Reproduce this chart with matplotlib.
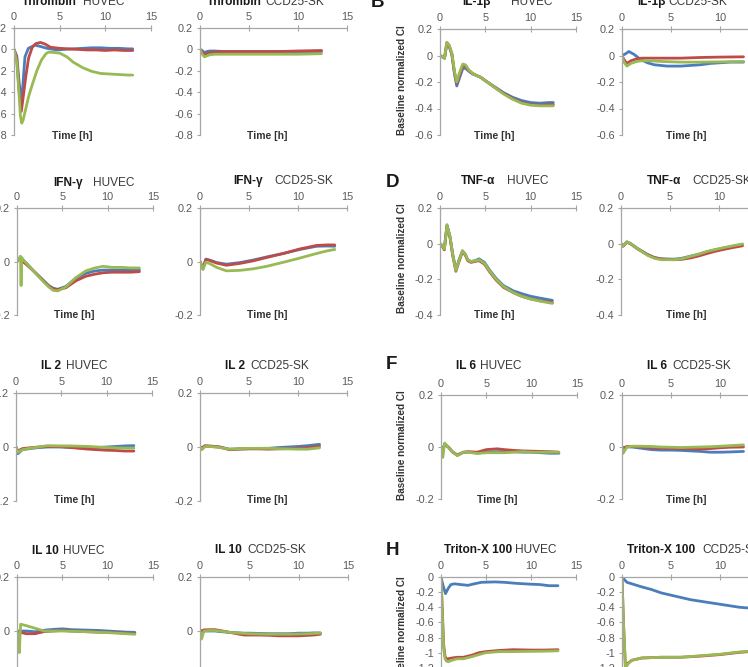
import matplotlib
matplotlib.use("Agg")
import matplotlib.pyplot as plt
from matplotlib.ticker import FuncFormatter, FixedLocator

plt.rcParams['font.family'] = ['Liberation Sans', 'DejaVu Sans']

W, H = 748, 667
BLUE, RED, GREEN = '#4A7EBB', '#BE4B48', '#98B954'

# ---------------- data ----------------
# Thrombin HUVEC
thr_huv_tb = [0, 0.3, 0.55, 0.84, 1.0, 1.2, 1.57, 2.3, 3.0, 3.6, 4.7, 5.5, 6.5, 7.5, 8.5, 9.5, 10.5, 11.5, 12.5, 13.0]
thr_huv_blue = [0, -0.06, -0.30, -0.50, -0.30, -0.07, 0.01, 0.04, 0.025, 0.01, -0.005, 0.0, 0.005, 0.01, 0.015, 0.015, 0.01, 0.01, 0.005, 0.005]
thr_huv_tr = [0, 0.3, 0.55, 0.8, 1.0, 1.3, 1.6, 2.0, 2.4, 2.9, 3.4, 4.0, 5.0, 6, 7, 8, 9, 10, 11, 12, 13]
thr_huv_red = [0, -0.08, -0.38, -0.58, -0.45, -0.25, -0.08, 0.02, 0.055, 0.065, 0.05, 0.02, 0.01, 0.005, 0.0, -0.005, -0.005, -0.01, -0.005, -0.01, -0.01]
thr_huv_tg = [0, 0.3, 0.5, 0.7, 0.85, 1.0, 1.3, 1.6, 2.0, 2.5, 3.0, 3.5, 3.8, 4.5, 5.0, 5.8, 6.5, 7.5, 8.5, 9.5, 10.5, 11.5, 12.5, 13.0]
thr_huv_green = [0, -0.12, -0.35, -0.62, -0.69, -0.66, -0.55, -0.44, -0.33, -0.20, -0.10, -0.04, -0.025, -0.03, -0.035, -0.07, -0.12, -0.17, -0.205, -0.225, -0.23, -0.235, -0.24, -0.24]

# Thrombin CCD25-SK
thr_ccd_t = [0, 0.2, 0.45, 0.7, 1.0, 1.5, 2.5, 4, 6, 8, 10, 12.4]
thr_ccd_blue = [0, -0.01, -0.03, -0.02, -0.015, -0.015, -0.02, -0.02, -0.02, -0.02, -0.02, -0.02]
thr_ccd_red = [0, -0.02, -0.05, -0.04, -0.03, -0.025, -0.02, -0.02, -0.02, -0.02, -0.015, -0.01]
thr_ccd_green = [0, -0.04, -0.07, -0.06, -0.05, -0.045, -0.045, -0.045, -0.045, -0.045, -0.045, -0.04]

# IL-1b HUVEC
il1_huv_t = [0, 0.25, 0.5, 0.75, 1.0, 1.3, 1.6, 1.85, 2.1, 2.5, 2.8, 3.2, 3.6, 4.0, 4.5, 5.0, 6.0, 7.0, 8.0, 9.0, 10.0, 11.0, 12.0, 12.5]
il1_huv_blue = [0, -0.01, -0.02, 0.09, 0.07, 0.01, -0.14, -0.23, -0.18, -0.10, -0.095, -0.12, -0.14, -0.15, -0.165, -0.19, -0.235, -0.28, -0.315, -0.34, -0.355, -0.36, -0.355, -0.355]
il1_huv_red = [0, -0.01, -0.02, 0.095, 0.075, 0.015, -0.13, -0.21, -0.16, -0.08, -0.08, -0.115, -0.135, -0.15, -0.165, -0.19, -0.24, -0.285, -0.325, -0.355, -0.37, -0.375, -0.372, -0.37]
il1_huv_green = [0, -0.01, -0.02, 0.10, 0.08, 0.02, -0.12, -0.20, -0.14, -0.065, -0.07, -0.11, -0.135, -0.15, -0.165, -0.19, -0.24, -0.29, -0.33, -0.36, -0.375, -0.38, -0.38, -0.38]

# IL-1b CCD25-SK
il1_ccd_tb = [0, 0.3, 0.7, 1.2, 1.9, 2.6, 3.3, 4.6, 6.0, 7.0, 8.0, 9.0, 10.0, 11.0, 12.4]
il1_ccd_blue = [0, 0.01, 0.03, 0.01, -0.03, -0.055, -0.07, -0.08, -0.08, -0.075, -0.07, -0.06, -0.055, -0.05, -0.05]
il1_ccd_t = [0, 0.2, 0.5, 0.9, 1.5, 2.0, 3.0, 4.0, 6.0, 8.0, 10.0, 12.4]
il1_ccd_red = [0, -0.03, -0.06, -0.04, -0.025, -0.02, -0.02, -0.02, -0.02, -0.015, -0.012, -0.01]
il1_ccd_green = [0, -0.05, -0.08, -0.06, -0.045, -0.04, -0.04, -0.045, -0.05, -0.05, -0.048, -0.045]

# IFN-g HUVEC
ifn_huv_t = [0, 0.3, 0.6, 1.0, 1.8, 2.9, 3.5, 4.0, 4.5, 5.4, 6.5, 7.6, 8.5, 9.5, 10.5, 11.5, 12.5, 13.5]
ifn_huv_blue = [0, 0.01, 0.005, -0.005, -0.034, -0.07, -0.09, -0.1, -0.104, -0.093, -0.062, -0.044, -0.036, -0.032, -0.032, -0.032, -0.033, -0.032]
ifn_huv_red = [0, 0.01, 0.0, -0.01, -0.035, -0.072, -0.092, -0.103, -0.105, -0.098, -0.072, -0.055, -0.048, -0.042, -0.04, -0.04, -0.04, -0.038]
ifn_huv_tg = [0, 0.2, 0.38, 0.45, 0.52, 0.6, 1.0, 1.8, 2.9, 3.5, 4.0, 4.5, 5.4, 6.5, 7.6, 8.5, 9.5, 10.5, 11.5, 12.5, 13.5]
ifn_huv_green = [0, 0.01, 0.02, -0.09, 0.015, 0.01, -0.005, -0.035, -0.075, -0.095, -0.108, -0.11, -0.095, -0.06, -0.035, -0.025, -0.018, -0.022, -0.022, -0.024, -0.024]

# IFN-g CCD25-SK
ifn_ccd_t = [0, 0.3, 0.6, 1.0, 1.7, 2.7, 4.1, 5.5, 6.8, 8.5, 10.2, 11.9, 13.0, 13.75]
ifn_ccd_blue = [0, -0.028, 0.009, 0.005, -0.004, -0.01, -0.004, 0.006, 0.017, 0.03, 0.045, 0.057, 0.058, 0.057]
ifn_ccd_red = [0, -0.025, 0.008, 0.004, -0.006, -0.014, -0.007, 0.003, 0.015, 0.03, 0.047, 0.06, 0.062, 0.062]
ifn_ccd_green = [0, -0.03, -0.003, -0.008, -0.022, -0.035, -0.033, -0.027, -0.018, -0.003, 0.013, 0.03, 0.04, 0.045]

# TNF-a HUVEC
tnf_huv_t = [0, 0.25, 0.48, 0.77, 1.1, 1.4, 1.75, 2.1, 2.48, 2.8, 3.05, 3.4, 3.9, 4.3, 4.9, 5.5, 6.2, 7.0, 8.1, 9.0, 10.0, 11.0, 12.4]
tnf_huv_blue = [0, -0.01, -0.025, 0.105, 0.04, -0.06, -0.145, -0.09, -0.04, -0.06, -0.09, -0.1, -0.095, -0.085, -0.105, -0.15, -0.195, -0.235, -0.265, -0.28, -0.295, -0.305, -0.318]
tnf_huv_red = [0, -0.015, -0.035, 0.10, 0.035, -0.065, -0.155, -0.10, -0.045, -0.065, -0.095, -0.105, -0.1, -0.095, -0.115, -0.16, -0.205, -0.245, -0.275, -0.295, -0.31, -0.32, -0.33]
tnf_huv_green = [0, -0.01, -0.03, 0.105, 0.04, -0.06, -0.15, -0.095, -0.04, -0.06, -0.09, -0.1, -0.097, -0.09, -0.11, -0.155, -0.2, -0.24, -0.275, -0.295, -0.31, -0.322, -0.335]

# TNF-a CCD25-SK
tnf_ccd_t = [0, 0.2, 0.6, 1.0, 1.7, 2.7, 3.4, 4.1, 5.4, 6.2, 7.1, 8.0, 8.8, 9.6, 10.5, 11.4, 12.4]
tnf_ccd_blue = [0, -0.012, 0.01, 0.0, -0.027, -0.06, -0.078, -0.085, -0.087, -0.082, -0.07, -0.058, -0.045, -0.035, -0.025, -0.015, -0.005]
tnf_ccd_red = [0, -0.015, 0.008, -0.002, -0.03, -0.062, -0.078, -0.086, -0.09, -0.088, -0.08, -0.068, -0.055, -0.043, -0.032, -0.022, -0.012]
tnf_ccd_green = [0, -0.013, 0.01, 0.0, -0.028, -0.065, -0.082, -0.09, -0.09, -0.085, -0.071, -0.058, -0.043, -0.033, -0.022, -0.012, -0.002]

# IL 2 HUVEC
il2_huv_t = [0, 0.2, 0.7, 1.5, 2.5, 3.5, 5, 6, 7, 8, 9, 10, 11, 12, 13]
il2_huv_blue = [0, -0.025, -0.01, -0.006, -0.002, 0.0, 0.0, -0.001, -0.003, -0.003, -0.002, 0.0, 0.002, 0.004, 0.005]
il2_huv_red = [0, -0.015, -0.006, -0.003, 0.0, 0.002, 0.001, -0.002, -0.005, -0.008, -0.01, -0.012, -0.013, -0.015, -0.015]
il2_huv_green = [0, -0.02, -0.01, -0.005, 0.0, 0.005, 0.004, 0.004, 0.003, 0.002, 0.0, -0.002, -0.003, -0.004, -0.004]

# IL 2 CCD25-SK
il2_ccd_t = [0, 0.2, 0.5, 1.0, 2.0, 3.0, 4.0, 5.0, 6.0, 7.0, 8.0, 9.0, 10.0, 11.0, 12.2]
il2_ccd_blue = [0, -0.005, 0.003, 0.002, 0.0, -0.008, -0.007, -0.006, -0.005, -0.005, -0.002, 0.0, 0.002, 0.005, 0.01]
il2_ccd_red = [0, -0.003, 0.005, 0.004, 0.0, -0.01, -0.008, -0.007, -0.007, -0.008, -0.007, -0.006, -0.005, -0.003, 0.003]
il2_ccd_green = [0, -0.01, 0.002, 0.002, -0.002, -0.008, -0.006, -0.005, -0.005, -0.005, -0.006, -0.007, -0.008, -0.008, -0.003]

# IL 6 HUVEC
il6_huv_t = [0, 0.2, 0.4, 0.8, 1.3, 1.8, 2.5, 3.0, 4.0, 5.0, 6.2, 7.0, 8.0, 9.0, 10.0, 11.0, 12.0, 13.0]
il6_huv_blue = [0, -0.01, 0.01, 0.0, -0.02, -0.032, -0.02, -0.02, -0.023, -0.02, -0.018, -0.018, -0.018, -0.02, -0.02, -0.022, -0.024, -0.024]
il6_huv_red = [0, -0.01, 0.01, 0.0, -0.02, -0.03, -0.02, -0.018, -0.02, -0.01, -0.007, -0.01, -0.013, -0.015, -0.016, -0.017, -0.018, -0.02]
il6_huv_green = [0, -0.04, 0.015, 0.0, -0.02, -0.033, -0.02, -0.02, -0.025, -0.022, -0.022, -0.022, -0.02, -0.018, -0.02, -0.02, -0.02, -0.02]

# IL 6 CCD25-SK
il6_ccd_t = [0, 0.1, 0.5, 1, 2, 3, 4, 5, 6, 7, 8, 9, 10, 11, 12.4]
il6_ccd_blue = [0, -0.003, 0.0, 0.0, -0.005, -0.01, -0.012, -0.012, -0.013, -0.015, -0.017, -0.02, -0.02, -0.019, -0.017]
il6_ccd_red = [0, -0.005, 0.002, 0.002, 0.0, -0.003, -0.005, -0.005, -0.006, -0.007, -0.008, -0.006, -0.003, -0.001, 0.0]
il6_ccd_green = [0, -0.025, 0.0, 0.003, 0.003, 0.002, 0.0, -0.001, -0.002, -0.001, 0.0, 0.001, 0.003, 0.005, 0.008]

# IL 10 HUVEC
il10_huv_t = [0, 0.15, 0.25, 0.4, 1, 2, 3, 4, 5, 6, 7, 8, 9, 10, 11, 12, 13]
il10_huv_blue = [0, 0.0, 0.0, 0.0, 0.0, -0.003, 0.003, 0.006, 0.008, 0.005, 0.004, 0.003, 0.002, 0.0, -0.002, -0.004, -0.005]
il10_huv_red = [0, -0.002, -0.004, -0.005, -0.01, -0.01, -0.002, 0.0, 0.002, 0.0, -0.002, -0.003, -0.004, -0.005, -0.006, -0.008, -0.01]
il10_huv_green = [0, -0.04, -0.08, 0.025, 0.02, 0.01, 0.0, 0.0, 0.0, -0.001, -0.002, -0.003, -0.005, -0.006, -0.008, -0.01, -0.012]

# IL 10 CCD25-SK
il10_ccd_t = [0, 0.15, 0.4, 1, 1.5, 2, 3, 4, 4.5, 5, 6, 7, 8, 9, 10, 11, 11.5, 12.2]
il10_ccd_blue = [0, 0.0, 0.0, 0.0, 0.0, -0.002, -0.005, -0.007, -0.008, -0.008, -0.009, -0.01, -0.01, -0.01, -0.008, -0.008, -0.007, -0.007]
il10_ccd_red = [0, 0.0, 0.004, 0.005, 0.005, 0.002, -0.005, -0.012, -0.015, -0.015, -0.015, -0.016, -0.018, -0.018, -0.018, -0.016, -0.015, -0.012]
il10_ccd_green = [0, -0.03, 0.0, 0.002, 0.002, 0.0, -0.005, -0.008, -0.009, -0.01, -0.011, -0.012, -0.012, -0.012, -0.011, -0.01, -0.009, -0.008]

# Triton-X 100 HUVEC
tri_huv_tb = [0, 0.2, 0.5, 0.8, 1.1, 1.5, 2.2, 3.0, 3.7, 4.5, 6.0, 7.0, 8.5, 10.0, 11.0, 12.0, 13.0]
tri_huv_blue = [0, -0.1, -0.22, -0.15, -0.1, -0.09, -0.1, -0.11, -0.09, -0.07, -0.065, -0.07, -0.085, -0.095, -0.1, -0.115, -0.115]
tri_huv_t = [0, 0.15, 0.3, 0.45, 0.6, 0.8, 1.2, 1.8, 2.5, 3.5, 4.2, 5.0, 6.5, 8.0, 10.0, 11.5, 13.0]
tri_huv_red = [0, -0.45, -0.9, -1.05, -1.08, -1.08, -1.07, -1.06, -1.06, -1.03, -1.0, -0.985, -0.97, -0.96, -0.965, -0.965, -0.96]
tri_huv_green = [0, -0.5, -0.95, -1.08, -1.11, -1.12, -1.1, -1.08, -1.08, -1.05, -1.025, -1.0, -0.985, -0.985, -0.982, -0.98, -0.975]

# Triton-X 100 CCD25-SK
tri_ccd_tb = [0, 0.5, 1, 2, 3, 4, 5, 6, 7, 8, 9, 10, 11, 12, 13]
tri_ccd_blue = [0, -0.07, -0.09, -0.13, -0.165, -0.21, -0.24, -0.27, -0.30, -0.32, -0.34, -0.36, -0.38, -0.40, -0.41]
tri_ccd_t = [0, 0.15, 0.35, 0.6, 1, 2, 4, 6, 8, 10, 12, 13]
tri_ccd_red = [0, -0.6, -1.19, -1.14, -1.1, -1.07, -1.06, -1.06, -1.045, -1.025, -0.995, -0.985]
tri_ccd_green = [0, -0.6, -1.2, -1.15, -1.1, -1.07, -1.06, -1.06, -1.04, -1.02, -0.99, -0.98]

x_ticks = [0, 5, 10, 15]

# ---------------- layout ----------------
fig = plt.figure(figsize=(W / 100, H / 100), dpi=100)
fig.patch.set_facecolor('white')
renderer = fig.canvas.get_renderer()

AX_COL = '#A6A6A6'
TXT_COL = '#595959'


def fmt(v, pos):
    s = f"{v:.1f}".rstrip('0').rstrip('.')
    return '0' if s in ('-0', '0', '') else s


def make_axes(x0, x15, ytop, ybot, ylim, yticks):
    ax = fig.add_axes([x0 / W, 1 - ybot / H, (x15 - x0) / W, (ybot - ytop) / H])
    ax.set_xlim(0, 15)
    ax.set_ylim(*ylim)
    ax.patch.set_alpha(0)
    for s in ('bottom', 'right'):
        ax.spines[s].set_visible(False)
    for s in ('top', 'left'):
        ax.spines[s].set_color(AX_COL)
        ax.spines[s].set_linewidth(0.9)
    ax.xaxis.tick_top()
    ax.xaxis.set_major_locator(FixedLocator(x_ticks))
    ax.yaxis.set_major_locator(FixedLocator(yticks))
    ax.yaxis.set_major_formatter(FuncFormatter(fmt))
    ax.tick_params(axis='x', direction='inout', length=4, width=0.8, color=AX_COL,
                   labelsize=7.8, labelcolor=TXT_COL, pad=2)
    ax.tick_params(axis='y', direction='out', length=2.5, width=0.8, color=AX_COL,
                   labelsize=7.8, labelcolor=TXT_COL, pad=2.5)
    return ax


def draw(ax, tb, b, tr, r, tg, g):
    ax.plot(tb, b, color=BLUE, lw=2.0, solid_capstyle='round')
    ax.plot(tr, r, color=RED, lw=2.0, solid_capstyle='round')
    ax.plot(tg, g, color=GREEN, lw=2.0, solid_capstyle='round')


def title(xb, xr, yb, bold, reg):
    t = fig.text(xb / W, 1 - yb / H, bold, fontsize=8.6, fontweight='bold', color='#1A1A1A',
                 ha='left', va='baseline')
    x_end = t.get_window_extent(renderer).x1 * W / fig.bbox.width
    xr = max(xr, x_end + 3)
    fig.text(xr / W, 1 - yb / H, reg, fontsize=8.6, color='#3A3A3A', ha='left', va='baseline')


def time_label(xc, yb):
    fig.text(xc / W, 1 - yb / H, 'Time [h]', fontsize=7.5, fontweight='bold', color='#333333',
             ha='center', va='baseline')


def ylab(xc, yc):
    fig.text(xc / W, 1 - yc / H, 'Baseline normalized CI', fontsize=7.2, fontweight='bold',
             color='#333333', rotation=90, ha='center', va='center')


yt_08 = [0.2, 0, -0.2, -0.4, -0.6, -0.8]
yt_06 = [0.2, 0, -0.2, -0.4, -0.6]
yt_04 = [0.2, 0, -0.2, -0.4]
yt_02 = [0.2, 0, -0.2]
yt_14 = [0, -0.2, -0.4, -0.6, -0.8, -1.0, -1.2, -1.4]

# Row 1
ax = make_axes(14, 151, 28, 135, (-0.8, 0.2), yt_08)
draw(ax, thr_huv_tb, thr_huv_blue, thr_huv_tr, thr_huv_red, thr_huv_tg, thr_huv_green)
ax = make_axes(200, 347, 28, 135, (-0.8, 0.2), yt_08)
draw(ax, thr_ccd_t, thr_ccd_blue, thr_ccd_t, thr_ccd_red, thr_ccd_t, thr_ccd_green)
ax = make_axes(440, 576, 29, 135, (-0.6, 0.2), yt_06)
draw(ax, il1_huv_t, il1_huv_blue, il1_huv_t, il1_huv_red, il1_huv_t, il1_huv_green)
ax = make_axes(622, 769, 29, 135, (-0.6, 0.2), yt_06)
draw(ax, il1_ccd_tb, il1_ccd_blue, il1_ccd_t, il1_ccd_red, il1_ccd_t, il1_ccd_green)

# Row 2
ax = make_axes(17, 153, 208, 315, (-0.2, 0.2), yt_02)
draw(ax, ifn_huv_t, ifn_huv_blue, ifn_huv_t, ifn_huv_red, ifn_huv_tg, ifn_huv_green)
ax = make_axes(200, 347, 208, 315, (-0.2, 0.2), yt_02)
draw(ax, ifn_ccd_t, ifn_ccd_blue, ifn_ccd_t, ifn_ccd_red, ifn_ccd_t, ifn_ccd_green)
ax = make_axes(440, 576, 208, 315, (-0.4, 0.2), yt_04)
draw(ax, tnf_huv_t, tnf_huv_blue, tnf_huv_t, tnf_huv_red, tnf_huv_t, tnf_huv_green)
ax = make_axes(621, 768, 208, 315, (-0.4, 0.2), yt_04)
draw(ax, tnf_ccd_t, tnf_ccd_blue, tnf_ccd_t, tnf_ccd_red, tnf_ccd_t, tnf_ccd_green)

# Row 3
ax = make_axes(16, 152, 393, 501, (-0.2, 0.2), yt_02)
draw(ax, il2_huv_t, il2_huv_blue, il2_huv_t, il2_huv_red, il2_huv_t, il2_huv_green)
ax = make_axes(200, 347, 393, 501, (-0.2, 0.2), yt_02)
draw(ax, il2_ccd_t, il2_ccd_blue, il2_ccd_t, il2_ccd_red, il2_ccd_t, il2_ccd_green)
ax = make_axes(441, 577, 395, 499, (-0.2, 0.2), yt_02)
draw(ax, il6_huv_t, il6_huv_blue, il6_huv_t, il6_huv_red, il6_huv_t, il6_huv_green)
ax = make_axes(622, 769, 395, 499, (-0.2, 0.2), yt_02)
draw(ax, il6_ccd_t, il6_ccd_blue, il6_ccd_t, il6_ccd_red, il6_ccd_t, il6_ccd_green)

# Row 4
ax = make_axes(17, 153, 577, 685, (-0.2, 0.2), yt_02)
draw(ax, il10_huv_t, il10_huv_blue, il10_huv_t, il10_huv_red, il10_huv_t, il10_huv_green)
ax = make_axes(200, 348, 577, 685, (-0.2, 0.2), yt_02)
draw(ax, il10_ccd_t, il10_ccd_blue, il10_ccd_t, il10_ccd_red, il10_ccd_t, il10_ccd_green)
ax = make_axes(441, 576, 577, 683, (-1.4, 0), yt_14)
draw(ax, tri_huv_tb, tri_huv_blue, tri_huv_t, tri_huv_red, tri_huv_t, tri_huv_green)
ax = make_axes(622, 769, 577, 683, (-1.4, 0), yt_14)
draw(ax, tri_ccd_tb, tri_ccd_blue, tri_ccd_t, tri_ccd_red, tri_ccd_t, tri_ccd_green)

# Titles
title(22, 83, 5, 'Thrombin', 'HUVEC')
title(207, 265, 5, 'Thrombin', 'CCD25-SK')
title(462, 511, 5, 'IL-1β', 'HUVEC')
title(637, 667, 5, 'IL-1β', 'CCD25-SK')
title(53, 93, 186, 'IFN-γ', 'HUVEC')
title(233, 274, 184, 'IFN-γ', 'CCD25-SK')
title(461, 507, 184, 'TNF-α', 'HUVEC')
title(647, 692, 184, 'TNF-α', 'CCD25-SK')
title(41, 66, 369, 'IL 2', 'HUVEC')
title(225, 250, 369, 'IL 2', 'CCD25-SK')
title(456, 480, 369, 'IL 6', 'HUVEC')
title(647, 672, 369, 'IL 6', 'CCD25-SK')
title(32, 63, 554, 'IL 10', 'HUVEC')
title(215, 247, 553, 'IL 10', 'CCD25-SK')
title(444, 514, 553, 'Triton-X 100', 'HUVEC')
title(627, 702, 553, 'Triton-X 100', 'CCD25-SK')

# Time labels
for yb in (139, 318, 503):
    time_label(72 if yb == 139 else 74, yb)
    time_label(267, yb)
    time_label(494 if yb != 503 else 497, yb)
    time_label(686, yb)

# Y labels (right group)
for yc in (80, 258, 445, 631):
    ylab(402, yc)

# Panel letters
for letter, x, yb in (('B', 371, 7), ('D', 386, 187), ('F', 386, 369), ('H', 386, 555)):
    fig.text(x / W, 1 - yb / H, letter, fontsize=13.5, fontweight='bold', color='#1A1A1A',
             ha='left', va='baseline')

fig.savefig('out.png', dpi=100)
